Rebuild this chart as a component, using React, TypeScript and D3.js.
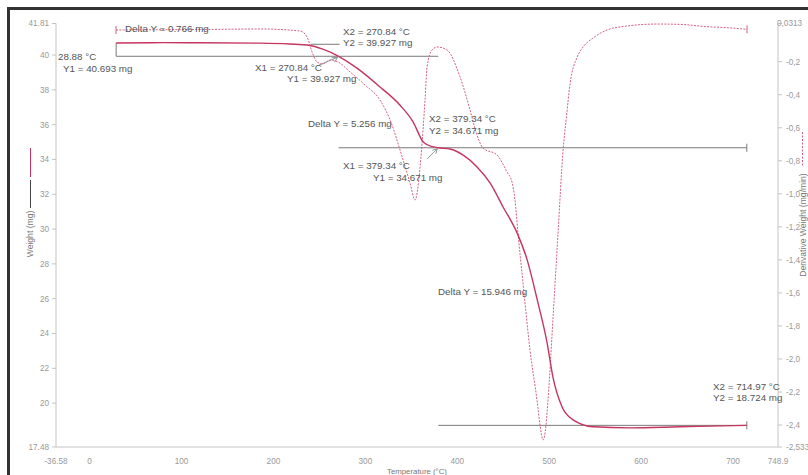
import React from "react";
import * as d3 from "d3";

// Weight curve (°C, mg)
const weightT = [28.88, 80, 120, 185, 218, 240, 253, 270.84, 292, 314, 338, 352, 363, 368, 379.34, 392, 406, 421.5, 435.6, 449.8, 465, 476, 487, 497.7, 504, 514, 526, 548, 588, 642, 714.97];
const weightW = [40.693, 40.71, 40.7, 40.68, 40.63, 40.55, 40.35, 39.927, 39.2, 38.25, 37.1, 36.15, 35.0, 34.83, 34.671, 34.6, 34.26, 33.57, 32.65, 31.27, 29.78, 28.23, 25.93, 23.46, 21.51, 19.78, 19.04, 18.64, 18.58, 18.64, 18.724];

// Derivative weight curve (°C, mg/min)
const derivT = [28.7, 120.1, 185.4, 228.9, 236.5, 242.0, 247.4, 253.9, 261.5, 270.2, 283.3, 299.6, 315.9, 329.0, 337.7, 348.6, 354.0, 359.5, 362.7, 364.9, 367.1, 372.5, 378.0, 388.8, 403.0, 413.9, 420.4, 428.0, 443.2, 454.1, 459.5, 462.8, 466.0, 471.5, 479.1, 486.7, 490.0, 493.3, 496.5, 498.7, 504.2, 509.6, 515.1, 518.4, 522.8, 530.4, 536.9, 547.6, 562.9, 584.6, 617.2, 642.3, 671.7, 693.4, 715.2];
const derivD = [-0.008, -0.005, -0.002, -0.014, -0.05, -0.141, -0.202, -0.214, -0.19, -0.202, -0.262, -0.341, -0.432, -0.583, -0.735, -0.935, -1.038, -0.838, -0.613, -0.432, -0.232, -0.129, -0.111, -0.129, -0.293, -0.493, -0.626, -0.723, -0.765, -0.868, -0.929, -1.038, -1.237, -1.54, -1.946, -2.249, -2.4, -2.491, -2.4, -2.249, -1.746, -1.237, -0.735, -0.553, -0.329, -0.172, -0.111, -0.057, -0.008, 0.016, 0.028, 0.026, 0.012, 0.006, -0.004];

// Step annotations
const stepX = [28.88, 270.84, 379.34, 714.97];
const stepY = [40.693, 39.927, 34.671, 18.724];
const deltaY = [0.766, 5.256, 15.946];

// Axes
const xDomain = [-36.58, 748.9];
const wDomain = [17.48, 41.81];
const dDomain = [-2.533, 0.0313];
const xTicks = [-36.58, 0, 100, 200, 300, 400, 500, 600, 700, 748.9];
const xTickLabels = ["-36.58", "0", "100", "200", "300", "400", "500", "600", "700", "748.9"];
const wTicks = [41.81, 40, 38, 36, 34, 32, 30, 28, 26, 24, 22, 20, 17.48];
const wTickLabels = ["41.81", "40", "38", "36", "34", "32", "30", "28", "26", "24", "22", "20", "17.48"];
const dTicks = [0.0313, -0.2, -0.4, -0.6, -0.8, -1.0, -1.2, -1.4, -1.6, -1.8, -2.0, -2.2, -2.4, -2.533];
const dTickLabels = ["0,0313", "-0,2", "-0,4", "-0,6", "-0,8", "-1,0", "-1,2", "-1,4", "-1,6", "-1,8", "-2,0", "-2,2", "-2,4", "-2,533"];

const FONT = "'Liberation Sans', Arial, sans-serif";
const RED = "#c5355f";
const RED2 = "#d6607f";
const ANN = "#7a7a7a";
const TXT = "#555";
const AX = "#c4c4c4";
const TICKTXT = "#999";

export default function App() {
  const L = 56, R = 778, T = 23.5, B = 447;
  const x = d3.scaleLinear().domain(xDomain).range([L, R]);
  const yW = d3.scaleLinear().domain(wDomain).range([B, T]);
  const yD = d3.scaleLinear().domain(dDomain).range([B, T]);

  const wLine = d3.line<number>().x((_, i) => x(weightT[i])).y((d) => yW(d)).curve(d3.curveMonotoneX);
  const dLine = d3.line<number>().x((_, i) => x(derivT[i])).y((d) => yD(d)).curve(d3.curveMonotoneX);

  const sx = stepX.map((v) => x(v));
  const sy = stepY.map((v) => yW(v));

  const t = (s: string, px: number, py: number, key?: string) => (
    <text key={key} x={px} y={py} dy="0.35em" fontSize={9.8} fill={TXT} fontFamily={FONT}>{s}</text>
  );

  return (
    <svg width={808} height={475} style={{ position: "absolute", left: 0, top: 0, background: "#fff" }}>
      <rect x={0} y={0} width={808} height={475} fill="#fff" />
      {/* frame */}
      <rect x={7} y={7} width={801} height={3} fill="#333" />
      <rect x={7} y={7} width={3} height={468} fill="#333" />

      {/* axes */}
      <line x1={L} x2={L} y1={T} y2={B} stroke={AX} />
      <line x1={R} x2={R} y1={T} y2={B} stroke={AX} />
      <line x1={L} x2={R} y1={B} y2={B} stroke={AX} />
      {wTicks.map((v, i) => (
        <g key={"w" + i}>
          <line x1={L - 4} x2={L} y1={yW(v)} y2={yW(v)} stroke={AX} />
          <text x={L - 7} y={yW(v)} dy="0.35em" textAnchor="end" fontSize={8.2} fill={TICKTXT} fontFamily={FONT}>{wTickLabels[i]}</text>
        </g>
      ))}
      {dTicks.map((v, i) => (
        <g key={"d" + i}>
          <line x1={R} x2={R + 4} y1={yD(v)} y2={yD(v)} stroke={AX} />
          <text x={i === 0 ? R - 1 : R + 8} y={yD(v)} dy="0.35em" fontSize={8.2} fill={TICKTXT} fontFamily={FONT}>{dTickLabels[i]}</text>
        </g>
      ))}
      {xTicks.map((v, i) => (
        <text key={"x" + i} x={x(v)} y={461} dy="0.35em" textAnchor="middle" fontSize={8.2} fill={TICKTXT} fontFamily={FONT}>{xTickLabels[i]}</text>
      ))}
      <text x={(L + R) / 2} y={471} dy="0.35em" textAnchor="middle" fontSize={7.8} fill="#777" fontFamily={FONT}>Temperature (°C)</text>

      {/* left axis title + legend */}
      <line x1={30.5} x2={30.5} y1={148} y2={177} stroke={RED} strokeWidth={1} />
      <line x1={30.5} x2={30.5} y1={180} y2={208} stroke="#444" strokeWidth={1} />
      <text transform={`translate(30,234) rotate(-90)`} dy="0.35em" textAnchor="middle" fontSize={8.6} fill="#777" fontFamily={FONT}>Weight (mg)</text>
      {/* right axis title + legend */}
      <line x1={802.5} x2={802.5} y1={132} y2={166} stroke={RED2} strokeDasharray="2,1.5" />
      <text transform={`translate(803,225) rotate(-90)`} dy="0.35em" textAnchor="middle" fontSize={8.6} fill="#777" fontFamily={FONT}>Derivative Weight (mg/min)</text>

      {/* annotation lines */}
      <g stroke={ANN} strokeWidth={1} fill="none">
        <line x1={sx[0]} x2={sx[2]} y1={sy[1]} y2={sy[1]} />
        <line x1={sx[0]} x2={sx[0]} y1={sy[0]} y2={sy[1]} />
        <line x1={sx[1]} x2={sx[3]} y1={sy[2]} y2={sy[2]} />
        <line x1={sx[3]} x2={sx[3]} y1={sy[2] - 4} y2={sy[2] + 4} />
        <line x1={sx[2]} x2={sx[3]} y1={sy[3]} y2={sy[3]} />
        <line x1={sx[3]} x2={sx[3]} y1={sy[3] - 4} y2={sy[3] + 4} />
        <line x1={sx[1] - 28} x2={sx[1] + 1} y1={sy[1] - 12} y2={sy[1] - 12} />
        {/* arrows to X1 points */}
        <line x1={sx[1] - 20} y1={sy[1] + 9} x2={sx[1] - 1} y2={sy[1] + 1} stroke="#8a9a9a" />
        <path d={`M${sx[1] - 1},${sy[1] + 1} l-6,0.5 M${sx[1] - 1},${sy[1] + 1} l-3,5`} stroke="#8a9a9a" />
        <line x1={sx[2] - 11} y1={sy[2] + 11} x2={sx[2] - 1} y2={sy[2] + 1} stroke="#8a9a9a" />
        <path d={`M${sx[2] - 1},${sy[2] + 1} l-5,1.5 M${sx[2] - 1},${sy[2] + 1} l-1.5,5`} stroke="#8a9a9a" />
      </g>

      {/* curves */}
      <path d={dLine(derivD) || ""} fill="none" stroke={RED2} strokeWidth={1} strokeDasharray="2,1.3" />
      <line x1={x(derivT[0])} x2={x(derivT[0])} y1={yD(derivD[0]) - 4} y2={yD(derivD[0]) + 4} stroke={RED2} />
      <line x1={x(derivT[derivT.length - 1])} x2={x(derivT[derivT.length - 1])} y1={yD(derivD[derivD.length - 1]) - 4} y2={yD(derivD[derivD.length - 1]) + 4} stroke={RED2} />
      <path d={wLine(weightW) || ""} fill="none" stroke={RED} strokeWidth={1.4} />

      {/* annotation texts */}
      {t(`${stepX[0]} °C`, 58, 57)}
      {t(`Y1 = ${stepY[0]} mg`, 63, 69)}
      {t(`Delta Y = ${deltaY[0]} mg`, 125, 29)}
      {t(`X2 = ${stepX[1]} °C`, 343, 32)}
      {t(`Y2 = ${stepY[1]} mg`, 343, 43)}
      {t(`X1 = ${stepX[1]} °C`, 255, 68)}
      {t(`Y1 = ${stepY[1]} mg`, 287, 79)}
      {t(`Delta Y = ${deltaY[1]} mg`, 308, 124)}
      {t(`X2 = ${stepX[2]} °C`, 429, 119)}
      {t(`Y2 = ${stepY[2]} mg`, 429, 131)}
      {t(`X1 = ${stepX[2]} °C`, 343, 166)}
      {t(`Y1 = ${stepY[2]} mg`, 373, 178)}
      {t(`Delta Y = ${deltaY[2]} mg`, 438, 292)}
      {t(`X2 = ${stepX[3]} °C`, 713, 387)}
      {t(`Y2 = ${stepY[3]} mg`, 713, 398)}
    </svg>
  );
}
